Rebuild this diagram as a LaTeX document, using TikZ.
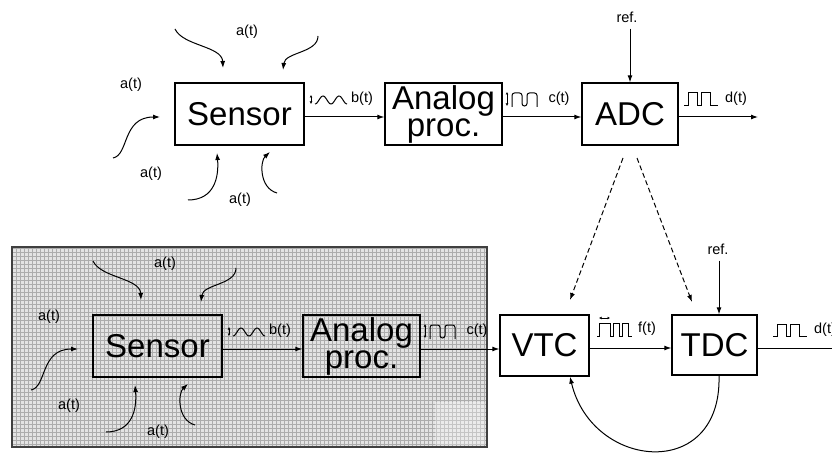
\documentclass[tikz,border=0pt]{standalone}
\usepackage{fontspec}
\setmainfont{Liberation Sans}
\usetikzlibrary{arrows.meta}

\newcommand\SensorGroup[1]{%
  \node[box, minimum width=129pt, minimum height=62pt] (sen#1) at (239.5,114) {Sensor};
  \node[box, minimum width=117pt, minimum height=62pt] (ana#1) at (443.5,114) {Analog\\proc.};
  \node[lbl] (at#1a) at (247,32) {a(t)};
  \node[lbl] (at#1b) at (131,85) {a(t)};
  \node[lbl] (at#1c) at (151,174) {a(t)};
  \node[lbl] (at#1d) at (240,200) {a(t)};
  \coordinate (s#1a) at (175,29);  \coordinate (e#1a) at (223,68);
  \coordinate (s#1b) at (318,36);  \coordinate (e#1b) at (283,70);
  \coordinate (s#1c) at (113,158); \coordinate (e#1c) at (160,117);
  \coordinate (s#1d) at (188,200); \coordinate (e#1d) at (217,153);
  \coordinate (s#1e) at (277,193); \coordinate (e#1e) at (270,152);
  \draw[arr] (s#1a) .. controls (183,46) and (222,46) .. (e#1a);
  \draw[arr] (s#1b) .. controls (318,53) and (285,52) .. (e#1b);
  \draw[arr] (s#1c) .. controls (129,155) and (122,117) .. (e#1c);
  \draw[arr] (s#1d) .. controls (215,200) and (219,176) .. (e#1d);
  \draw[arr] (s#1e) .. controls (259,188) and (260,161) .. (e#1e);
  \draw[arr] ([yshift=-3pt]sen#1.east) -- ([yshift=-3pt]sen#1.east -| ana#1.west);
  % b(t) icon
  \draw[updown] (311,95) -- (311,104);
  \draw[sig] plot[domain=0:32, samples=60] ({315+\x},{100+4*cos(22.5*\x)});
  \node[lbl] (bt#1) at (362,99) {b(t)};
  % c(t) icon
  \draw[updown] (507,92) -- (507,106);
  \draw[sig, rounded corners=2.5pt] (512,107) -- (512,93) -- (522,93) -- (522,106)
     -- (527,106) -- (527,93) -- (537,93) -- (537,107);
  \node[lbl] (ct#1) at (559,99) {c(t)};
}

\begin{document}
\begin{tikzpicture}[x=1pt, y=-1pt,
  box/.style={draw, line width=1.3pt, inner sep=0pt,
    font=\fontsize{33}{27}\selectfont, align=center},
  lbl/.style={font=\fontsize{14.5}{14.5}\selectfont, inner sep=0pt},
  arr/.style={line width=1pt, -{Latex[length=7pt,width=5pt]}},
  dasharr/.style={line width=1pt, dash pattern=on 5pt off 3pt,
    -{Latex[length=7pt,width=5pt]}},
  sig/.style={line width=1pt},
  updown/.style={line width=0.8pt,
    {Latex[length=2.5pt,width=2.8pt]}-{Latex[length=2.5pt,width=2.8pt]}},
]
\useasboundingbox (0,0) rectangle (832,457);

% ---------- grey region (bottom left) ----------
\fill[gray!22] (12,247) rectangle (487,447);
\draw[gray!65, line width=0.9pt, step=4pt] (12,247) grid (487,447);
\fill[white, opacity=0.3] (435,402) rectangle (485,445);
\draw[line width=1.2pt, black!75] (12,247) rectangle (487,447);

% ---------- top chain ----------
\SensorGroup{1}
\node[box, minimum width=96pt, minimum height=62pt] (adc) at (630,114) {ADC};
\draw[arr] ([yshift=-3pt]ana1.east) -- ([yshift=-3pt]ana1.east -| adc.west);
\node[lbl] (ref1) at (627,17) {ref.};
\draw[arr, shorten <=6pt] (ref1.south -| adc.north) -- (adc.north);
% d(t) icon
\draw[sig] (684,106) -- (688,106) -- (688,93) -- (697,93) -- (697,106) -- (701,106)
   -- (701,93) -- (710,93) -- (710,106) -- (718,106);
\node[lbl] (dt1) at (736,99) {d(t)};
\coordinate (d1end) at (758,117);
\draw[arr] ([yshift=-3pt]adc.east) -- (d1end);

% ---------- bottom chain ----------
\begin{scope}[shift={(-82,232)}]
  \SensorGroup{2}
\end{scope}
\node[box, minimum width=89pt, minimum height=61pt] (vtc) at (544.5,345.5) {VTC};
\node[box, minimum width=85pt, minimum height=60pt] (tdc) at (714.5,345) {TDC};
\draw[arr] ([yshift=-3pt]ana2.east) -- ([yshift=-3pt]ana2.east -| vtc.west);
\draw[arr] ([yshift=-3pt]tdc.west -| vtc.east) -- ([yshift=-3pt]tdc.west);

% f(t) icon
\draw[updown] (599,318) -- (610,318);
\draw[sig] (597,336) -- (599,336) -- (599,323) -- (610,323) -- (610,336) -- (613,336)
   -- (613,323) -- (619,323) -- (619,336) -- (622,336) -- (622,323) -- (628,323)
   -- (628,336) -- (632,336);
\node[lbl] (ft) at (647,329) {f(t)};

% TDC reference
\node[lbl] (ref2) at (718,249) {ref.};
\draw[arr, shorten <=6pt] ([xshift=1pt]ref2.south) -- ([xshift=1pt]ref2.south |- tdc.north);

% TDC output
\draw[sig] (773,336) -- (777,336) -- (777,324) -- (786,324) -- (786,336) -- (790,336)
   -- (790,324) -- (799,324) -- (799,336) -- (807,336);
\node[lbl] (dt2) at (825,330) {d(t)};
\coordinate (d2end) at (848,348);
\draw[arr] ([yshift=-3pt]tdc.east) -- (d2end);

% feedback loop TDC -> VTC
\draw[arr] ([xshift=4.5pt]tdc.south) .. controls (722,482) and (592,470) .. ([xshift=25.5pt]vtc.south);

% dashed links ADC -> VTC / TDC
\coordinate (dl0) at (623,158); \coordinate (dl1) at (570,300);
\coordinate (dr0) at (637,158); \coordinate (dr1) at (692,302);
\draw[dasharr] (dl0) -- (dl1);
\draw[dasharr] (dr0) -- (dr1);
\end{tikzpicture}
\end{document}
